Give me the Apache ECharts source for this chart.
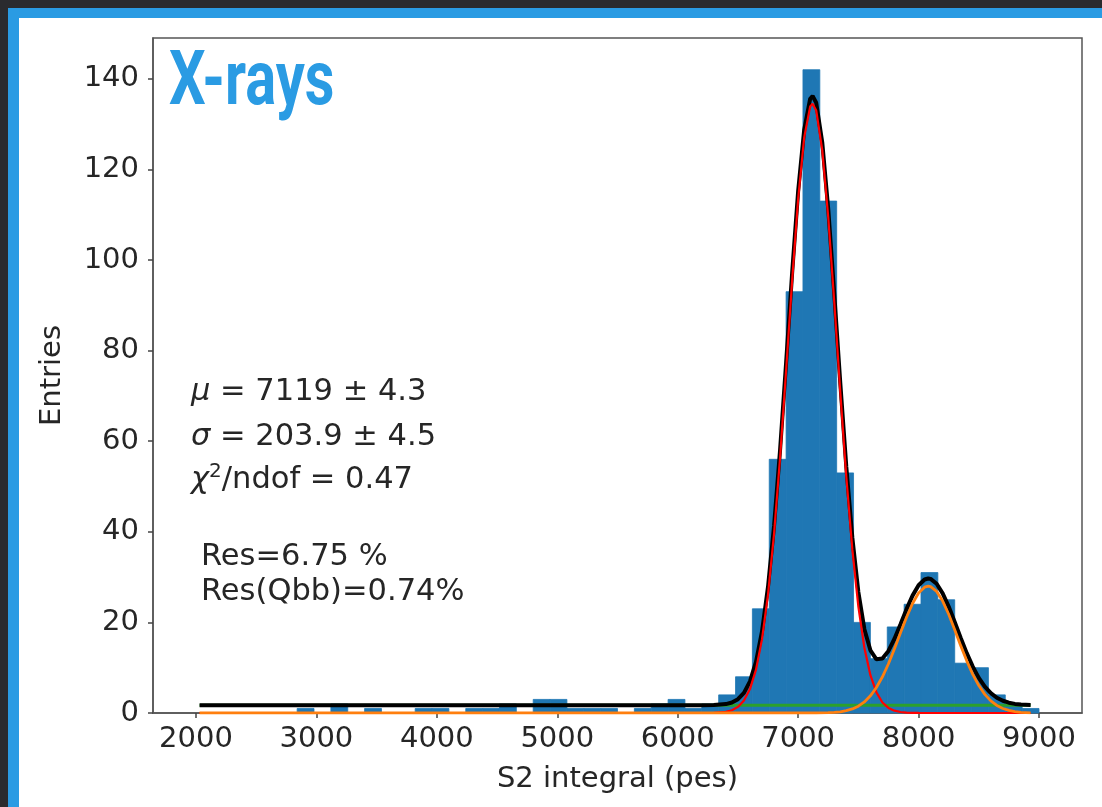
<!DOCTYPE html>
<html>
<head>
<meta charset="utf-8">
<script src="https://cdn.jsdelivr.net/npm/echarts@6/dist/echarts.min.js"></script>
<style>
html,body{margin:0;padding:0;background:#fff;}
#chart{width:1102px;height:807px;}
</style>
</head>
<body>
<div id="chart"></div>
<script>
// Histogram bin edges (pes) and entries per bin
const binEdges = [2000,2140,2280,2420,2560,2700,2840,2980,3120,3260,3400,3540,3680,3820,3960,4100,4240,4380,4520,4660,4800,4940,5080,5220,5360,5500,5640,5780,5920,6060,6200,6340,6480,6620,6760,6900,7040,7180,7320,7460,7600,7740,7880,8020,8160,8300,8440,8580,8720,8860,9000];
const binCounts = [0,0,0,0,0,0,1,0,2,0,1,0,0,1,1,0,1,1,2,0,3,3,1,1,1,0,1,2,3,1,2,4,8,23,56,93,142,113,53,20,12,19,24,31,25,11,10,4,2,1];

// Fit curves
const fitX   = [2030,6200,6300,6400,6450,6500,6550,6600,6650,6700,6750,6800,6850,6900,6950,7000,7050,7100,7120,7150,7200,7250,7300,7350,7400,7450,7500,7550,7600,7650,7700,7750,7800,7850,7900,7950,8000,8050,8080,8100,8150,8200,8250,8300,8350,8400,8450,8500,8550,8600,8650,8700,8750,8800,8850,8930];
const totalY = [1.7,1.7,1.74,1.97,2.32,3.05,4.45,6.98,11.27,18.0,27.9,41.3,58.1,77.3,97.1,115.2,128.7,135.6,136.2,134.7,126.0,111.2,92.5,72.8,54.3,38.7,26.7,18.5,13.84,11.86,12.02,13.71,16.39,19.61,22.93,25.91,28.2,29.48,29.7,29.6,28.53,26.41,23.49,20.1,16.57,13.21,10.23,7.76,5.81,4.38,3.37,2.7,2.27,2.01,1.86,1.75];
const peak1Y = [0,0,0.04,0.27,0.62,1.35,2.75,5.28,9.57,16.3,26.2,39.6,56.4,75.6,95.4,113.5,127.0,133.9,134.5,133.0,124.3,109.4,90.7,70.8,52.1,36.1,23.5,14.4,8.35,4.54,2.33,1.13,0.51,0.22,0.09,0.03,0.01,0,0,0,0,0,0,0,0,0,0,0,0,0,0,0,0,0,0,0];
const peak2Y = [0,0,0,0,0,0,0,0,0,0,0,0,0,0,0,0,0,0,0,0,0.03,0.07,0.14,0.27,0.51,0.89,1.51,2.44,3.79,5.62,7.99,10.88,14.18,17.69,21.14,24.18,26.49,27.78,28.0,27.9,26.83,24.71,21.79,18.4,14.87,11.51,8.53,6.06,4.11,2.68,1.67,1.0,0.57,0.31,0.16,0.05];
const bgX = [2030, 8930];
const bgY = [1.7, 1.7];

// Tick labels
const xTicks = [2000,3000,4000,5000,6000,7000,8000,9000];
const yTicks = [0,20,40,60,80,100,120,140];

const histData = [];
for (let i = 0; i < binCounts.length; i++) {
  histData.push([binEdges[i], binEdges[i+1], binCounts[i]]);
}
const pairs = (xs, ys) => xs.map((x, i) => [x, ys[i]]);

const FONT = 'DejaVu Sans';
const TXT = '#262626';
const chart = echarts.init(document.getElementById('chart'), null, {renderer: 'canvas'});

const lineCommon = {type: 'line', showSymbol: false, symbol: 'none', animation: false, silent: true};

chart.setOption({
  animation: false,
  backgroundColor: '#ffffff',
  grid: {left: 153, top: 38, width: 929, height: 675, show: true, borderColor: '#555', borderWidth: 1.5, backgroundColor: 'transparent'},
  xAxis: {
    type: 'value', min: 1643, max: 9357,
    name: 'S2 integral (pes)', nameLocation: 'middle', nameGap: 52,
    nameTextStyle: {fontFamily: FONT, fontSize: 29, color: TXT},
    axisLine: {show: true, lineStyle: {color: '#555', width: 1.5}},
    axisTick: {show: true, length: 5, customValues: xTicks, lineStyle: {color: '#444', width: 1.5}},
    axisLabel: {customValues: xTicks, fontFamily: FONT, fontSize: 29, color: TXT, margin: 12,
      formatter: function (v) { return String(v); }},
    splitLine: {show: false}
  },
  yAxis: {
    type: 'value', min: 0, max: 149,
    name: 'Entries', nameLocation: 'middle', nameGap: 86,
    nameTextStyle: {fontFamily: FONT, fontSize: 29, color: TXT},
    axisLine: {show: true, lineStyle: {color: '#555', width: 1.5}},
    axisTick: {show: true, length: 5, customValues: yTicks, lineStyle: {color: '#444', width: 1.5}},
    axisLabel: {customValues: yTicks, fontFamily: FONT, fontSize: 29, color: TXT, margin: 14,
      formatter: function (v) { return String(v); }},
    splitLine: {show: false}
  },
  series: [
    {
      type: 'custom', animation: false, silent: true,
      encode: {x: [0, 1], y: 2},
      data: histData,
      renderItem: function (params, api) {
        const c = api.value(2);
        if (!c) return null;
        const p0 = api.coord([api.value(0), c]);
        const p1 = api.coord([api.value(1), 0]);
        return {type: 'rect', shape: {x: p0[0], y: p0[1], width: p1[0] - p0[0], height: p1[1] - p0[1]},
          style: {fill: '#1f77b4', stroke: '#1f77b4', lineWidth: 0.8}};
      }
    },
    Object.assign({}, lineCommon, {data: pairs(bgX, bgY), lineStyle: {color: '#2ca02c', width: 3}}),
    Object.assign({}, lineCommon, {data: pairs(fitX, totalY), lineStyle: {color: '#000000', width: 4}}),
    Object.assign({}, lineCommon, {data: pairs(fitX, peak1Y), lineStyle: {color: '#ff0000', width: 2.2}}),
    Object.assign({}, lineCommon, {data: pairs(fitX, peak2Y), lineStyle: {color: '#ff7f0e', width: 2.8}})
  ],
  graphic: [
    {type: 'rect', shape: {x: 0, y: 0, width: 1102, height: 8}, style: {fill: '#2a2b2e'}, silent: true},
    {type: 'rect', shape: {x: 0, y: 0, width: 8, height: 807}, style: {fill: '#2a2b2e'}, silent: true},
    {type: 'rect', shape: {x: 8, y: 8, width: 1094, height: 10}, style: {fill: '#2a9be3'}, silent: true},
    {type: 'rect', shape: {x: 8, y: 8, width: 11, height: 799}, style: {fill: '#2a9be3'}, silent: true},
    {type: 'text', x: 169, y: 85, scaleX: 0.76, silent: true,
      style: {text: 'X-rays', fontFamily: 'Roboto', fontWeight: 'bold', fontSize: 76, fill: '#2a9be3', verticalAlign: 'middle', align: 'left'}},
    {type: 'text', x: 191, y: 392, silent: true,
      style: {text: '{i|μ} = 7119 ± 4.3', fontFamily: FONT, fontSize: 30.5, fill: TXT, verticalAlign: 'middle', align: 'left',
        rich: {i: {fontFamily: FONT, fontStyle: 'italic', fontSize: 30.5, fill: TXT}}}},
    {type: 'text', x: 191, y: 437, silent: true,
      style: {text: '{i|σ} = 203.9 ± 4.5', fontFamily: FONT, fontSize: 30.5, fill: TXT, verticalAlign: 'middle', align: 'left',
        rich: {i: {fontFamily: FONT, fontStyle: 'italic', fontSize: 30.5, fill: TXT}}}},
    {type: 'text', x: 191, y: 480, silent: true,
      style: {text: '{i|χ}{s|2}/ndof = 0.47', fontFamily: FONT, fontSize: 30.5, lineHeight: 36, fill: TXT, verticalAlign: 'middle', align: 'left',
        rich: {i: {fontFamily: FONT, fontStyle: 'italic', fontSize: 30.5, lineHeight: 36, fill: TXT},
               s: {fontFamily: FONT, fontSize: 20, lineHeight: 20, verticalAlign: 'top', fill: TXT}}}},
    {type: 'text', x: 201, y: 557, silent: true,
      style: {text: 'Res=6.75 %', fontFamily: FONT, fontSize: 30.5, fill: TXT, verticalAlign: 'middle', align: 'left'}},
    {type: 'text', x: 201, y: 592, silent: true,
      style: {text: 'Res(Qbb)=0.74%', fontFamily: FONT, fontSize: 30.5, fill: TXT, verticalAlign: 'middle', align: 'left'}}
  ]
});
</script>
</body>
</html>
